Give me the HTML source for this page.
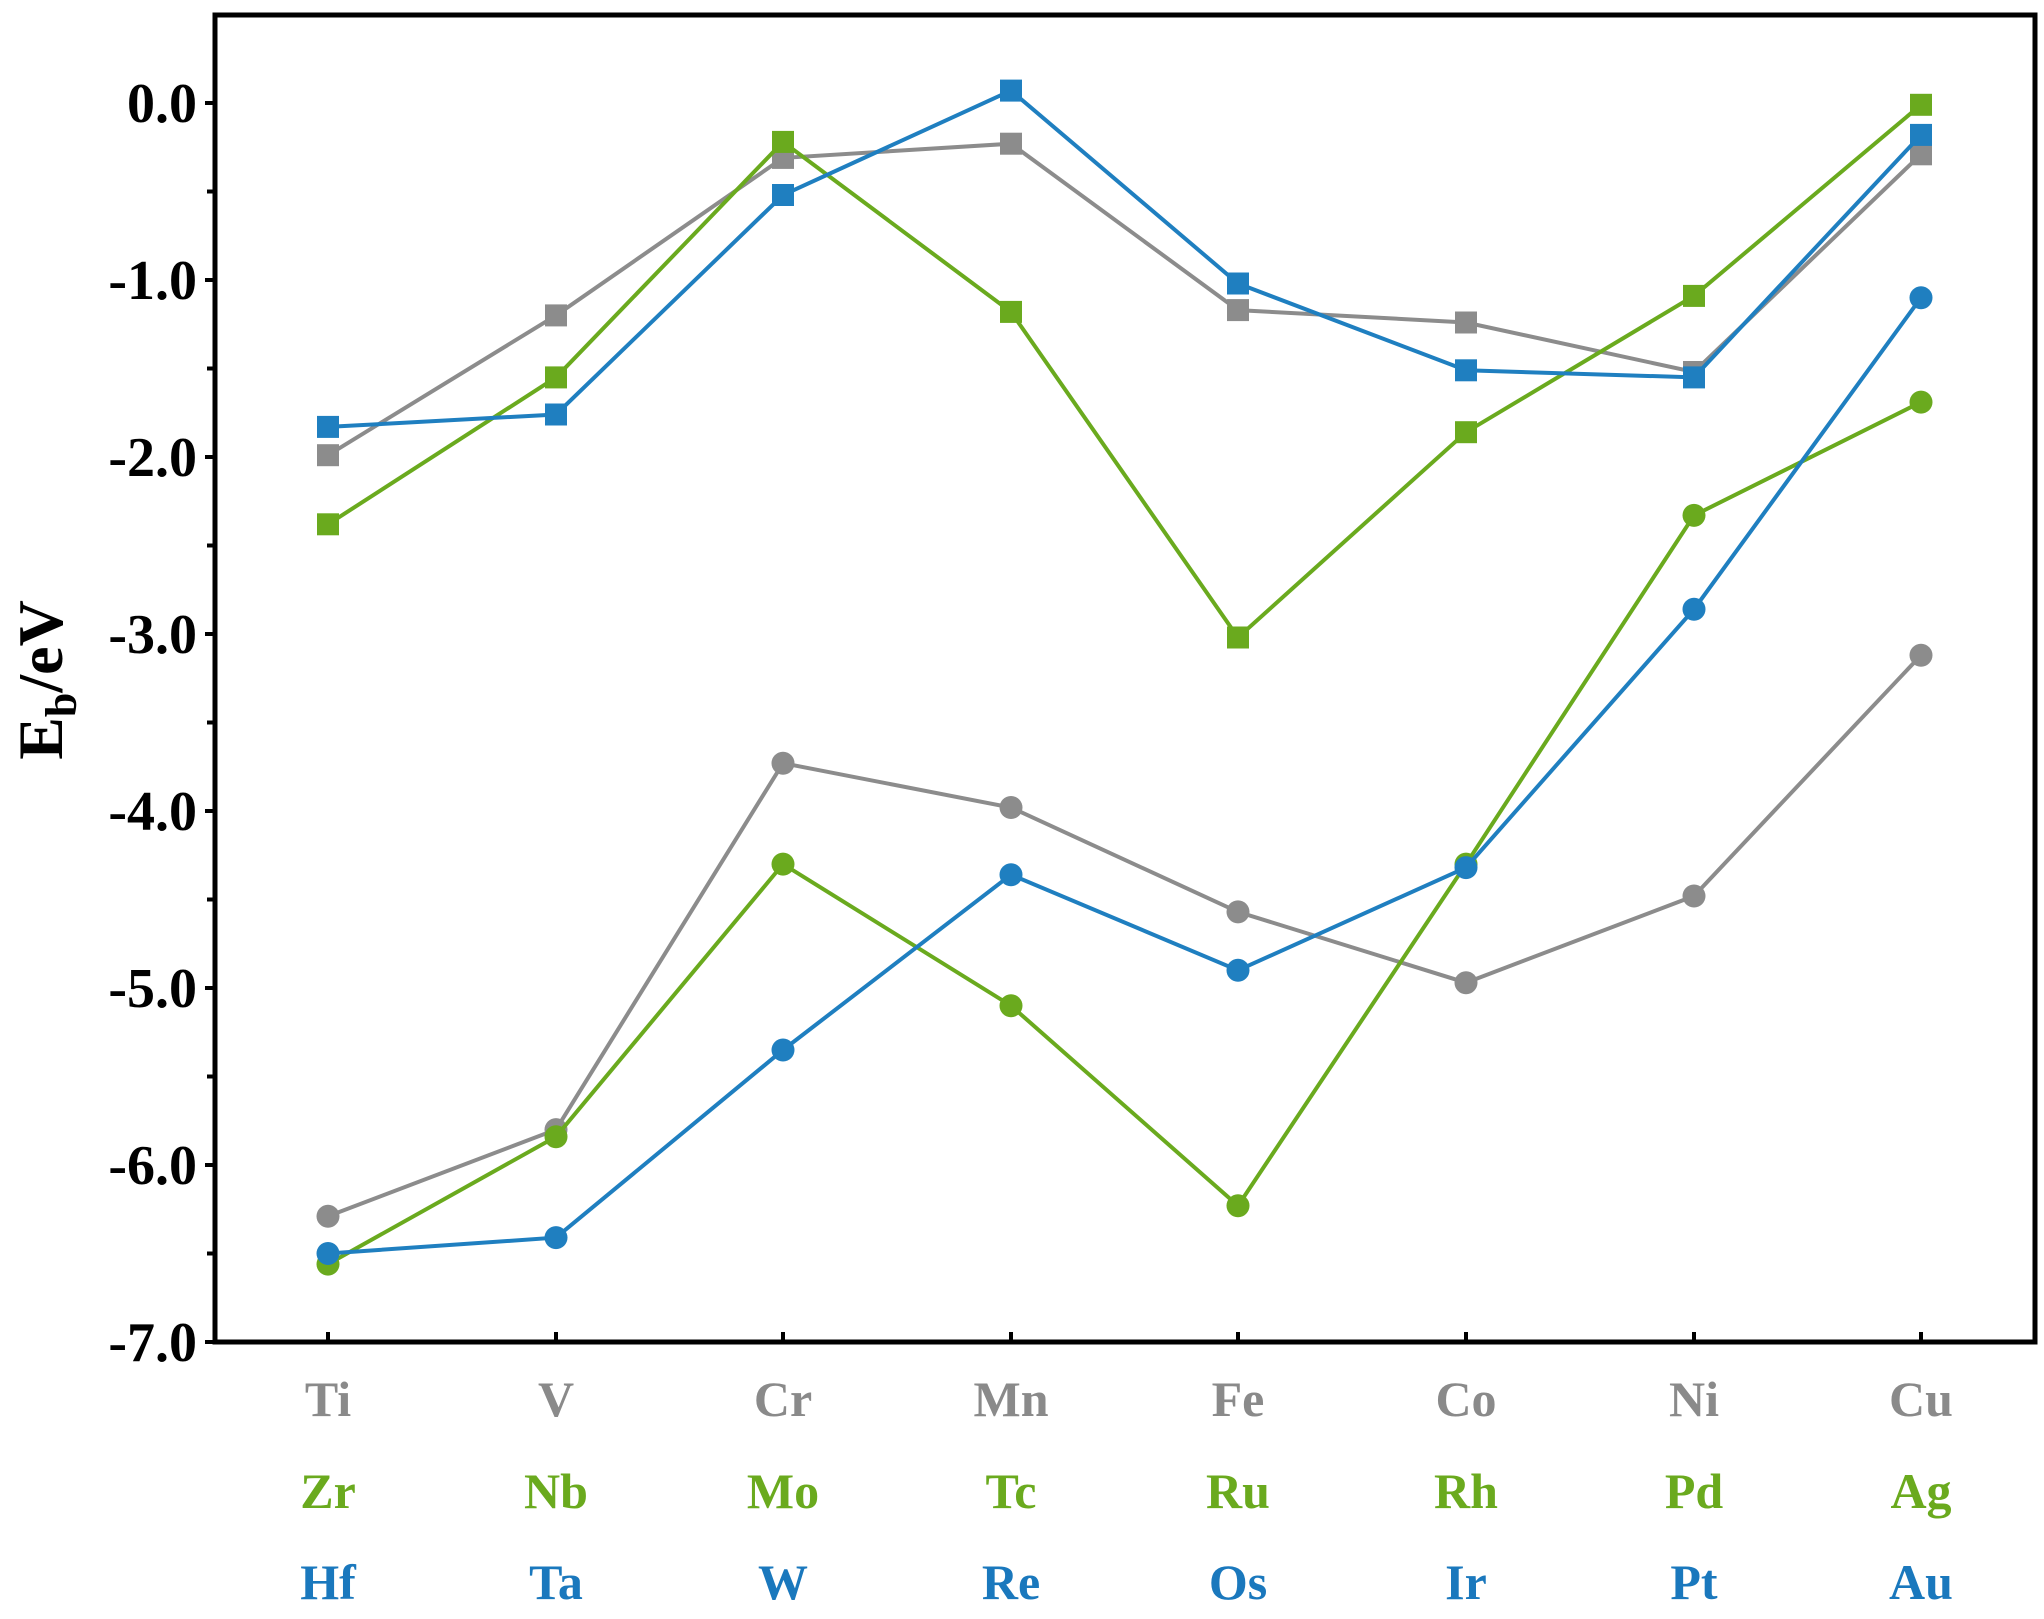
<!DOCTYPE html>
<html><head><meta charset="utf-8"><style>
html,body{margin:0;padding:0;background:#fff;}
svg{display:block;}
text{font-family:"Liberation Serif",serif;font-weight:bold;}
</style></head><body>
<svg width="2044" height="1619" viewBox="0 0 2044 1619" xmlns="http://www.w3.org/2000/svg">
<defs>
<marker id="sg" markerUnits="userSpaceOnUse" markerWidth="24" markerHeight="24" refX="12" refY="12" overflow="visible"><rect x="1" y="1" width="22" height="22" fill="#8c8c8c"/></marker>
<marker id="sn" markerUnits="userSpaceOnUse" markerWidth="24" markerHeight="24" refX="12" refY="12" overflow="visible"><rect x="1" y="1" width="22" height="22" fill="#6aaa1e"/></marker>
<marker id="sb" markerUnits="userSpaceOnUse" markerWidth="24" markerHeight="24" refX="12" refY="12" overflow="visible"><rect x="1" y="1" width="22" height="22" fill="#1f7fc0"/></marker>
<marker id="cg" markerUnits="userSpaceOnUse" markerWidth="24" markerHeight="24" refX="12" refY="12" overflow="visible"><circle cx="12" cy="12" r="11.5" fill="#8c8c8c"/></marker>
<marker id="cn" markerUnits="userSpaceOnUse" markerWidth="24" markerHeight="24" refX="12" refY="12" overflow="visible"><circle cx="12" cy="12" r="11.5" fill="#6aaa1e"/></marker>
<marker id="cb" markerUnits="userSpaceOnUse" markerWidth="24" markerHeight="24" refX="12" refY="12" overflow="visible"><circle cx="12" cy="12" r="11.5" fill="#1f7fc0"/></marker>
</defs>
<rect x="215" y="15" width="1820" height="1327" fill="none" stroke="#000" stroke-width="5"/>
<g stroke="#000" stroke-width="4">
<line x1="205" y1="103" x2="215" y2="103"/><line x1="205" y1="280" x2="215" y2="280"/>
<line x1="205" y1="457" x2="215" y2="457"/><line x1="205" y1="634" x2="215" y2="634"/>
<line x1="205" y1="811" x2="215" y2="811"/><line x1="205" y1="988" x2="215" y2="988"/>
<line x1="205" y1="1165" x2="215" y2="1165"/><line x1="205" y1="1342" x2="215" y2="1342"/>
<line x1="207" y1="191.5" x2="215" y2="191.5"/><line x1="207" y1="368.5" x2="215" y2="368.5"/>
<line x1="207" y1="545.5" x2="215" y2="545.5"/><line x1="207" y1="722.5" x2="215" y2="722.5"/>
<line x1="207" y1="899.5" x2="215" y2="899.5"/><line x1="207" y1="1076.5" x2="215" y2="1076.5"/>
<line x1="207" y1="1253.5" x2="215" y2="1253.5"/>
<line x1="328" y1="1332" x2="328" y2="1342"/><line x1="556" y1="1332" x2="556" y2="1342"/>
<line x1="783" y1="1332" x2="783" y2="1342"/><line x1="1011" y1="1332" x2="1011" y2="1342"/>
<line x1="1238" y1="1332" x2="1238" y2="1342"/><line x1="1466" y1="1332" x2="1466" y2="1342"/>
<line x1="1694" y1="1332" x2="1694" y2="1342"/><line x1="1921" y1="1332" x2="1921" y2="1342"/>
</g>
<g font-size="56" text-anchor="end" fill="#000">
<text x="197" y="122">0.0</text><text x="197" y="299">-1.0</text><text x="197" y="476">-2.0</text>
<text x="197" y="653">-3.0</text><text x="197" y="830">-4.0</text><text x="197" y="1007">-5.0</text>
<text x="197" y="1184">-6.0</text><text x="197" y="1361">-7.0</text>
</g>
<text transform="translate(62,680) rotate(-90)" font-size="64" text-anchor="middle" fill="#000">E<tspan font-size="44" dy="14">b</tspan><tspan dy="-14">/eV</tspan></text>
<g font-size="50" text-anchor="middle">
<g fill="#8a8a8a"><text x="328" y="1416">Ti</text><text x="556" y="1416">V</text><text x="783" y="1416">Cr</text><text x="1011" y="1416">Mn</text><text x="1238" y="1416">Fe</text><text x="1466" y="1416">Co</text><text x="1694" y="1416">Ni</text><text x="1921" y="1416">Cu</text></g>
<g fill="#6aaa1e"><text x="328" y="1508">Zr</text><text x="556" y="1508">Nb</text><text x="783" y="1508">Mo</text><text x="1011" y="1508">Tc</text><text x="1238" y="1508">Ru</text><text x="1466" y="1508">Rh</text><text x="1694" y="1508">Pd</text><text x="1921" y="1508">Ag</text></g>
<g fill="#1a78bd"><text x="328" y="1599">Hf</text><text x="556" y="1599">Ta</text><text x="783" y="1599">W</text><text x="1011" y="1599">Re</text><text x="1238" y="1599">Os</text><text x="1466" y="1599">Ir</text><text x="1694" y="1599">Pt</text><text x="1921" y="1599">Au</text></g>
</g>
<g fill="none" stroke-width="4">
<polyline stroke="#8c8c8c" marker-start="url(#sg)" marker-mid="url(#sg)" marker-end="url(#sg)" points="328,455.2 556,315.4 783,157.9 1011,143.7 1238,310.1 1466,322.5 1694,372 1921,154.3"/>
<polyline stroke="#6aaa1e" marker-start="url(#sn)" marker-mid="url(#sn)" marker-end="url(#sn)" points="328,524.3 556,377.4 783,141.9 1011,311.9 1238,637.5 1466,432.2 1694,295.9 1921,104.8"/>
<polyline stroke="#1f7fc0" marker-start="url(#sb)" marker-mid="url(#sb)" marker-end="url(#sb)" points="328,426.9 556,414.5 783,195 1011,90.6 1238,283.5 1466,370.3 1694,377.4 1921,134.9"/>
<polyline stroke="#8c8c8c" marker-start="url(#cg)" marker-mid="url(#cg)" marker-end="url(#cg)" points="328,1216.3 556,1129.6 783,763.2 1011,807.5 1238,911.9 1466,982.7 1694,896 1921,655.2"/>
<polyline stroke="#6aaa1e" marker-start="url(#cn)" marker-mid="url(#cn)" marker-end="url(#cn)" points="328,1264.1 556,1136.7 783,864.1 1011,1005.7 1238,1205.7 1466,864.1 1694,515.4 1921,402.1"/>
<polyline stroke="#1f7fc0" marker-start="url(#cb)" marker-mid="url(#cb)" marker-end="url(#cb)" points="328,1253.5 556,1237.6 783,1050 1011,874.7 1238,970.3 1466,867.6 1694,609.2 1921,297.7"/>
</g>
</svg>
</body></html>
